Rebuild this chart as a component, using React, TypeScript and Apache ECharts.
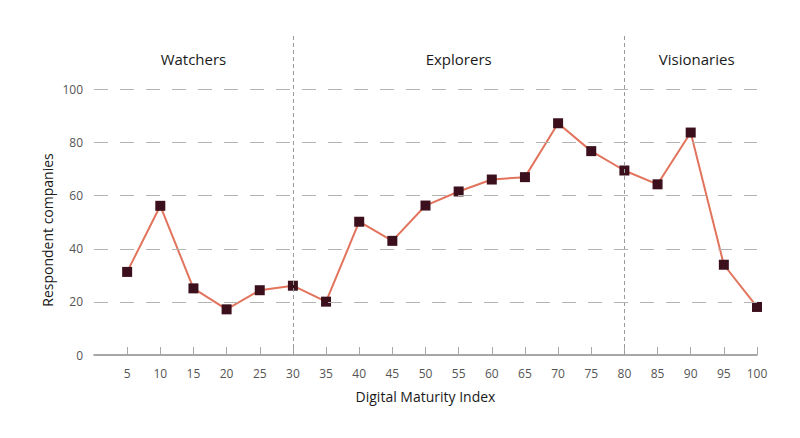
import React, { useEffect, useRef } from "react";
import * as echarts from "echarts";

const maturityIndex = [5, 10, 15, 20, 25, 30, 35, 40, 45, 50, 55, 60, 65, 70, 75, 80, 85, 90, 95, 100];
const respondents = [31.3, 56.2, 25.1, 17.2, 24.4, 26.1, 20.1, 50.2, 43.0, 56.3, 61.6, 66.1, 67.0, 87.3, 76.8, 69.5, 64.3, 83.8, 34.0, 18.1];
const yGridValues = [20, 40, 60, 80, 100];
const segmentNames = ["Watchers", "Explorers", "Visionaries"];
const segmentFrom = [0, 30, 80];
const segmentTo = [30, 80, 100];
const boundaries = [30, 80];

const FONT = "'Open Sans', 'Noto Sans', sans-serif";

export default function App() {
  const ref = useRef<HTMLDivElement>(null);

  useEffect(() => {
    if (!ref.current) return;
    const chart = echarts.init(ref.current, null, { renderer: "svg" });
    const option: any = {
      animation: false,
      backgroundColor: "#ffffff",
      textStyle: { fontFamily: FONT },
      grid: { left: 94, right: 43, top: 33, bottom: 83 },
      xAxis: {
        type: "value",
        min: 0,
        max: 100,
        interval: 5,
        axisLine: { show: true, lineStyle: { color: "#8a8a8a", width: 1.5 } },
        axisTick: {
          show: true,
          inside: true,
          length: 8,
          customValues: maturityIndex,
          lineStyle: { color: "#a8a8a8", width: 1 },
        },
        axisLabel: {
          customValues: maturityIndex,
          margin: 12,
          color: "#555555",
          fontSize: 12,
          fontFamily: FONT,
        },
        splitLine: { show: false },
        name: "Digital Maturity Index",
        nameLocation: "middle",
        nameGap: 34,
        nameTextStyle: { color: "#1a1a1a", fontSize: 14, fontFamily: FONT },
      },
      yAxis: {
        type: "value",
        min: 0,
        max: 121.3,
        interval: 20,
        axisLine: { show: false },
        axisTick: { show: false },
        splitLine: { show: false },
        axisLabel: {
          margin: 11,
          color: "#555555",
          fontSize: 12,
          fontFamily: FONT,
          formatter: (v: number) => (v <= 100 ? String(v) : ""),
        },
      },
      graphic: [
        {
          type: "text",
          x: 47,
          y: 230,
          rotation: Math.PI / 2,
          style: {
            text: "Respondent companies",
            fill: "#1a1a1a",
            fontSize: 14,
            fontFamily: FONT,
            align: "center",
            verticalAlign: "middle",
          },
        },
      ],
      series: [
        {
          type: "line",
          data: [],
          z: 1,
          silent: true,
          markLine: {
            silent: true,
            symbol: ["none", "none"],
            label: { show: false },
            data: [
              ...boundaries.map((x) => ({
                xAxis: x,
                lineStyle: { type: [4, 3], color: "#9a9a9a", width: 1 },
              })),
              ...yGridValues.map((y) => ({
                yAxis: y,
                lineStyle: { type: [14, 12], color: "#b3b3b3", width: 1 },
              })),
            ],
          },
          markArea: {
            silent: true,
            itemStyle: { color: "rgba(0,0,0,0)" },
            label: {
              show: true,
              position: "insideTop",
              distance: 18,
              color: "#1a1a1a",
              fontSize: 15,
              fontFamily: FONT,
            },
            data: segmentNames.map((name, i) => [
              {
                name,
                xAxis: segmentFrom[i],
                label: i === 2 ? { offset: [6, 0] } : undefined,
              },
              { xAxis: segmentTo[i] },
            ]),
          },
        },
        {
          type: "line",
          z: 3,
          data: maturityIndex.map((x, i) => [x, respondents[i]]),
          symbol: "rect",
          symbolSize: 10,
          showAllSymbol: true,
          lineStyle: { color: "#e2735c", width: 2 },
          itemStyle: { color: "#3b0f1c" },
        },
      ],
    };
    chart.setOption(option);
    return () => chart.dispose();
  }, []);

  return <div ref={ref} style={{ width: 800, height: 438, margin: -8 }} />;
}
